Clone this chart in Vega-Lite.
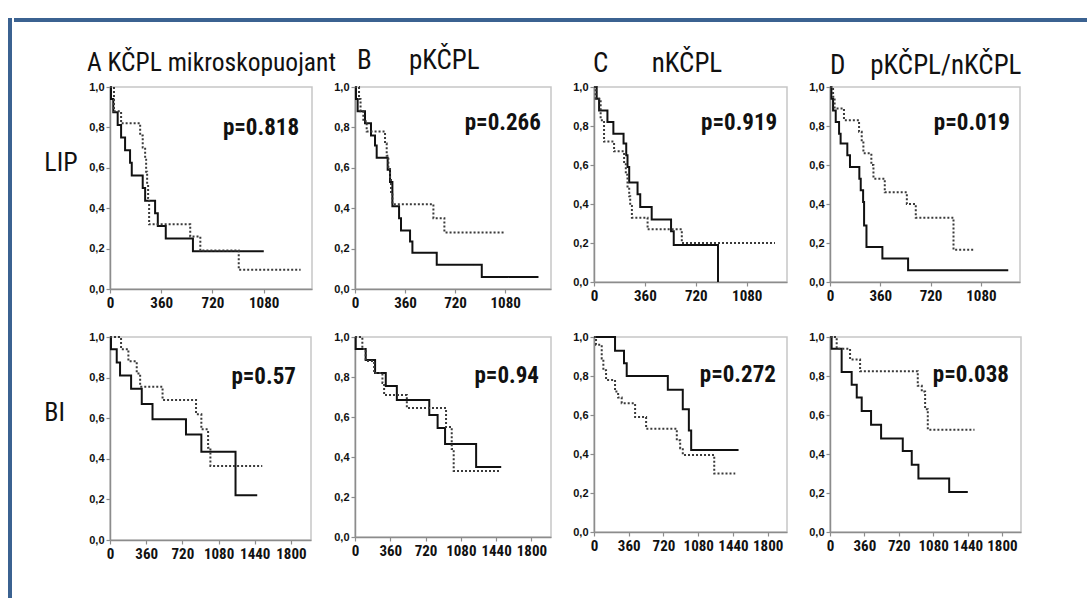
{
  "$schema": "https://vega.github.io/schema/vega-lite/v6.json",
  "padding": {"left": 8, "top": 14, "right": 0, "bottom": 0},
  "autosize": {"type": "pad"},
  "background": "white",
  "datasets": {
    "km": [
      {"panel":"A1","grp":"a","t":0,"s":1},{"panel":"A1","grp":"a","t":7,"s":0.94},{"panel":"A1","grp":"a","t":23,"s":0.875},{"panel":"A1","grp":"a","t":54,"s":0.8125},{"panel":"A1","grp":"a","t":78,"s":0.75},{"panel":"A1","grp":"a","t":106,"s":0.6875},{"panel":"A1","grp":"a","t":141,"s":0.625},{"panel":"A1","grp":"a","t":153,"s":0.5625},{"panel":"A1","grp":"a","t":230,"s":0.5},{"panel":"A1","grp":"a","t":247,"s":0.4375},{"panel":"A1","grp":"a","t":317,"s":0.375},{"panel":"A1","grp":"a","t":336,"s":0.3125},{"panel":"A1","grp":"a","t":392,"s":0.25},{"panel":"A1","grp":"a","t":583,"s":0.1875},{"panel":"A1","grp":"a","t":1081,"s":0.1875},
      {"panel":"A1","grp":"b","t":0,"s":1},{"panel":"A1","grp":"b","t":28,"s":0.88},{"panel":"A1","grp":"b","t":78,"s":0.82},{"panel":"A1","grp":"b","t":212,"s":0.76},{"panel":"A1","grp":"b","t":230,"s":0.7},{"panel":"A1","grp":"b","t":247,"s":0.64},{"panel":"A1","grp":"b","t":254,"s":0.58},{"panel":"A1","grp":"b","t":261,"s":0.52},{"panel":"A1","grp":"b","t":268,"s":0.45},{"panel":"A1","grp":"b","t":275,"s":0.32},{"panel":"A1","grp":"b","t":564,"s":0.26},{"panel":"A1","grp":"b","t":635,"s":0.19},{"panel":"A1","grp":"b","t":905,"s":0.095},{"panel":"A1","grp":"b","t":1340,"s":0.095},
      {"panel":"B1","grp":"a","t":0,"s":1},{"panel":"B1","grp":"a","t":7,"s":0.94},{"panel":"B1","grp":"a","t":19,"s":0.88},{"panel":"B1","grp":"a","t":72,"s":0.82},{"panel":"B1","grp":"a","t":115,"s":0.76},{"panel":"B1","grp":"a","t":144,"s":0.71},{"panel":"B1","grp":"a","t":156,"s":0.65},{"panel":"B1","grp":"a","t":235,"s":0.59},{"panel":"B1","grp":"a","t":252,"s":0.53},{"panel":"B1","grp":"a","t":269,"s":0.41},{"panel":"B1","grp":"a","t":317,"s":0.35},{"panel":"B1","grp":"a","t":331,"s":0.29},{"panel":"B1","grp":"a","t":396,"s":0.235},{"panel":"B1","grp":"a","t":413,"s":0.18},{"panel":"B1","grp":"a","t":588,"s":0.12},{"panel":"B1","grp":"a","t":912,"s":0.06},{"panel":"B1","grp":"a","t":1320,"s":0.06},
      {"panel":"B1","grp":"b","t":0,"s":1},{"panel":"B1","grp":"b","t":29,"s":0.94},{"panel":"B1","grp":"b","t":40,"s":0.88},{"panel":"B1","grp":"b","t":60,"s":0.83},{"panel":"B1","grp":"b","t":84,"s":0.78},{"panel":"B1","grp":"b","t":216,"s":0.72},{"panel":"B1","grp":"b","t":228,"s":0.66},{"panel":"B1","grp":"b","t":240,"s":0.6},{"panel":"B1","grp":"b","t":252,"s":0.54},{"panel":"B1","grp":"b","t":259,"s":0.48},{"panel":"B1","grp":"b","t":269,"s":0.42},{"panel":"B1","grp":"b","t":564,"s":0.35},{"panel":"B1","grp":"b","t":643,"s":0.28},{"panel":"B1","grp":"b","t":1080,"s":0.28},
      {"panel":"C1","grp":"a","t":0,"s":1},{"panel":"C1","grp":"a","t":19,"s":0.94},{"panel":"C1","grp":"a","t":36,"s":0.88},{"panel":"C1","grp":"a","t":95,"s":0.82},{"panel":"C1","grp":"a","t":137,"s":0.76},{"panel":"C1","grp":"a","t":209,"s":0.71},{"panel":"C1","grp":"a","t":228,"s":0.65},{"panel":"C1","grp":"a","t":237,"s":0.59},{"panel":"C1","grp":"a","t":249,"s":0.51},{"panel":"C1","grp":"a","t":308,"s":0.45},{"panel":"C1","grp":"a","t":327,"s":0.385},{"panel":"C1","grp":"a","t":408,"s":0.32},{"panel":"C1","grp":"a","t":545,"s":0.26},{"panel":"C1","grp":"a","t":564,"s":0.19},{"panel":"C1","grp":"a","t":877,"s":0},
      {"panel":"C1","grp":"b","t":0,"s":1},{"panel":"C1","grp":"b","t":12,"s":0.94},{"panel":"C1","grp":"b","t":47,"s":0.83},{"panel":"C1","grp":"b","t":71,"s":0.72},{"panel":"C1","grp":"b","t":142,"s":0.67},{"panel":"C1","grp":"b","t":213,"s":0.61},{"panel":"C1","grp":"b","t":225,"s":0.55},{"panel":"C1","grp":"b","t":237,"s":0.49},{"panel":"C1","grp":"b","t":249,"s":0.44},{"panel":"C1","grp":"b","t":256,"s":0.39},{"panel":"C1","grp":"b","t":268,"s":0.33},{"panel":"C1","grp":"b","t":379,"s":0.27},{"panel":"C1","grp":"b","t":621,"s":0.2},{"panel":"C1","grp":"b","t":1280,"s":0.2},
      {"panel":"D1","grp":"a","t":0,"s":1},{"panel":"D1","grp":"a","t":10,"s":0.94},{"panel":"D1","grp":"a","t":22,"s":0.88},{"panel":"D1","grp":"a","t":41,"s":0.82},{"panel":"D1","grp":"a","t":65,"s":0.76},{"panel":"D1","grp":"a","t":76,"s":0.71},{"panel":"D1","grp":"a","t":124,"s":0.65},{"panel":"D1","grp":"a","t":143,"s":0.59},{"panel":"D1","grp":"a","t":210,"s":0.53},{"panel":"D1","grp":"a","t":220,"s":0.47},{"panel":"D1","grp":"a","t":237,"s":0.41},{"panel":"D1","grp":"a","t":244,"s":0.29},{"panel":"D1","grp":"a","t":261,"s":0.18},{"panel":"D1","grp":"a","t":375,"s":0.12},{"panel":"D1","grp":"a","t":559,"s":0.06},{"panel":"D1","grp":"a","t":1276,"s":0.06},
      {"panel":"D1","grp":"b","t":0,"s":1},{"panel":"D1","grp":"b","t":22,"s":0.95},{"panel":"D1","grp":"b","t":33,"s":0.89},{"panel":"D1","grp":"b","t":100,"s":0.83},{"panel":"D1","grp":"b","t":208,"s":0.77},{"panel":"D1","grp":"b","t":227,"s":0.72},{"panel":"D1","grp":"b","t":239,"s":0.66},{"panel":"D1","grp":"b","t":296,"s":0.6},{"panel":"D1","grp":"b","t":311,"s":0.53},{"panel":"D1","grp":"b","t":392,"s":0.46},{"panel":"D1","grp":"b","t":550,"s":0.4},{"panel":"D1","grp":"b","t":614,"s":0.33},{"panel":"D1","grp":"b","t":884,"s":0.165},{"panel":"D1","grp":"b","t":1032,"s":0.165},
      {"panel":"A2","grp":"a","t":0,"s":1},{"panel":"A2","grp":"a","t":10,"s":0.94},{"panel":"A2","grp":"a","t":67,"s":0.875},{"panel":"A2","grp":"a","t":100,"s":0.81},{"panel":"A2","grp":"a","t":210,"s":0.745},{"panel":"A2","grp":"a","t":316,"s":0.67},{"panel":"A2","grp":"a","t":423,"s":0.595},{"panel":"A2","grp":"a","t":756,"s":0.52},{"panel":"A2","grp":"a","t":909,"s":0.435},{"panel":"A2","grp":"a","t":1249,"s":0.22},{"panel":"A2","grp":"a","t":1465,"s":0.22},
      {"panel":"A2","grp":"b","t":0,"s":1},{"panel":"A2","grp":"b","t":110,"s":0.94},{"panel":"A2","grp":"b","t":183,"s":0.88},{"panel":"A2","grp":"b","t":266,"s":0.82},{"panel":"A2","grp":"b","t":300,"s":0.755},{"panel":"A2","grp":"b","t":523,"s":0.69},{"panel":"A2","grp":"b","t":856,"s":0.62},{"panel":"A2","grp":"b","t":909,"s":0.545},{"panel":"A2","grp":"b","t":976,"s":0.455},{"panel":"A2","grp":"b","t":999,"s":0.365},{"panel":"A2","grp":"b","t":1515,"s":0.365},
      {"panel":"B2","grp":"a","t":0,"s":1},{"panel":"B2","grp":"a","t":7,"s":0.94},{"panel":"B2","grp":"a","t":109,"s":0.885},{"panel":"B2","grp":"a","t":205,"s":0.82},{"panel":"B2","grp":"a","t":314,"s":0.755},{"panel":"B2","grp":"a","t":427,"s":0.685},{"panel":"B2","grp":"a","t":758,"s":0.61},{"panel":"B2","grp":"a","t":843,"s":0.545},{"panel":"B2","grp":"a","t":919,"s":0.465},{"panel":"B2","grp":"a","t":1236,"s":0.35},{"panel":"B2","grp":"a","t":1492,"s":0.35},
      {"panel":"B2","grp":"b","t":0,"s":1},{"panel":"B2","grp":"b","t":75,"s":0.94},{"panel":"B2","grp":"b","t":109,"s":0.88},{"panel":"B2","grp":"b","t":195,"s":0.82},{"panel":"B2","grp":"b","t":280,"s":0.77},{"panel":"B2","grp":"b","t":297,"s":0.71},{"panel":"B2","grp":"b","t":529,"s":0.645},{"panel":"B2","grp":"b","t":929,"s":0.55},{"panel":"B2","grp":"b","t":987,"s":0.44},{"panel":"B2","grp":"b","t":1007,"s":0.33},{"panel":"B2","grp":"b","t":1475,"s":0.33},
      {"panel":"C2","grp":"a","t":0,"s":1},{"panel":"C2","grp":"a","t":218,"s":0.93},{"panel":"C2","grp":"a","t":311,"s":0.865},{"panel":"C2","grp":"a","t":339,"s":0.8},{"panel":"C2","grp":"a","t":765,"s":0.73},{"panel":"C2","grp":"a","t":920,"s":0.63},{"panel":"C2","grp":"a","t":983,"s":0.52},{"panel":"C2","grp":"a","t":1007,"s":0.42},{"panel":"C2","grp":"a","t":1498,"s":0.42},
      {"panel":"C2","grp":"b","t":0,"s":1},{"panel":"C2","grp":"b","t":21,"s":0.96},{"panel":"C2","grp":"b","t":80,"s":0.89},{"panel":"C2","grp":"b","t":97,"s":0.83},{"panel":"C2","grp":"b","t":125,"s":0.78},{"panel":"C2","grp":"b","t":218,"s":0.72},{"panel":"C2","grp":"b","t":250,"s":0.69},{"panel":"C2","grp":"b","t":287,"s":0.66},{"panel":"C2","grp":"b","t":426,"s":0.59},{"panel":"C2","grp":"b","t":540,"s":0.53},{"panel":"C2","grp":"b","t":858,"s":0.47},{"panel":"C2","grp":"b","t":893,"s":0.43},{"panel":"C2","grp":"b","t":920,"s":0.395},{"panel":"C2","grp":"b","t":1246,"s":0.3},{"panel":"C2","grp":"b","t":1464,"s":0.3},
      {"panel":"D2","grp":"a","t":0,"s":1},{"panel":"D2","grp":"a","t":17,"s":0.94},{"panel":"D2","grp":"a","t":122,"s":0.82},{"panel":"D2","grp":"a","t":227,"s":0.755},{"panel":"D2","grp":"a","t":280,"s":0.69},{"panel":"D2","grp":"a","t":332,"s":0.62},{"panel":"D2","grp":"a","t":430,"s":0.55},{"panel":"D2","grp":"a","t":535,"s":0.48},{"panel":"D2","grp":"a","t":762,"s":0.415},{"panel":"D2","grp":"a","t":856,"s":0.345},{"panel":"D2","grp":"a","t":926,"s":0.275},{"panel":"D2","grp":"a","t":1248,"s":0.205},{"panel":"D2","grp":"a","t":1443,"s":0.205},
      {"panel":"D2","grp":"b","t":0,"s":1},{"panel":"D2","grp":"b","t":70,"s":0.94},{"panel":"D2","grp":"b","t":210,"s":0.885},{"panel":"D2","grp":"b","t":315,"s":0.825},{"panel":"D2","grp":"b","t":919,"s":0.75},{"panel":"D2","grp":"b","t":961,"s":0.72},{"panel":"D2","grp":"b","t":996,"s":0.63},{"panel":"D2","grp":"b","t":1024,"s":0.525},{"panel":"D2","grp":"b","t":1513,"s":0.525}
    ],
    "pv": [
      {"panel":"A1","p":"p=0.818"},{"panel":"B1","p":"p=0.266"},{"panel":"C1","p":"p=0.919"},{"panel":"D1","p":"p=0.019"},
      {"panel":"A2","p":"p=0.57"},{"panel":"B2","p":"p=0.94"},{"panel":"C2","p":"p=0.272"},{"panel":"D2","p":"p=0.038"}
    ]
  },
  "spacing": 0,
  "hconcat": [
    {
      "width": 4, "height": 584,
      "view": {"fill": "#3b6291", "stroke": null},
      "data": {"name": "pv"},
      "mark": {"type": "text", "opacity": 0},
      "encoding": {"text": {"value": ""}}
    },
    {
      "spacing": 21,
      "vconcat": [
        {
          "width": 979, "height": 4,
          "view": {"fill": "#3b6291", "stroke": null},
          "data": {"name": "pv"},
          "mark": {"type": "text", "opacity": 0},
          "encoding": {
            "text": {"value": ""},
            "y": {"datum": 0.5, "type": "quantitative", "scale": {"domain": [0, 1]},
                  "axis": {"values": [0.5], "offset": 96, "translate": 0, "tickSize": -96, "tickWidth": 4, "tickColor": "#3b6291", "tickCap": "butt", "domain": false, "labels": false, "title": null}}
          }
        },
        {
          "columns": 4,
          "spacing": {"row": 47, "column": 43},
          "align": {"row": "all", "column": "none"},
          "bounds": "flush",
          "concat": [
            {
              "width": 202, "height": 202,
              "title": {"text": "A KČPL mikroskopuojant", "dx": -23, "offset": 5, "fontSize": 25.5},
              "layer": [
                {"data": {"name": "km"}, "transform": [{"filter": "datum.panel === 'A1'"}],
                 "mark": {"type": "line", "interpolate": "step-after", "strokeWidth": 2},
                 "encoding": {
                   "x": {"field": "t", "type": "quantitative", "scale": {"domain": [0, 1420], "nice": false, "zero": false}, "axis": {"values": [0, 360, 720, 1080], "title": null}},
                   "y": {"field": "s", "type": "quantitative", "scale": {"domain": [0, 1], "nice": false}, "axis": {"values": [0, 0.2, 0.4, 0.6, 0.8, 1], "labelExpr": "replace(format(datum.value, '.1f'), '.', ',')", "title": "\u200b\u00a0\u00a0\u00a0\u00a0\u00a0LIP", "titleAngle": 0, "titleAlign": "left", "titleBaseline": "middle", "titleX": -96, "titleY": 75}},
                   "color": {"field": "grp", "type": "nominal", "scale": {"domain": ["a", "b"], "range": ["#111111", "#3a3a3a"]}, "legend": null},
                   "strokeDash": {"field": "grp", "type": "nominal", "scale": {"domain": ["a", "b"], "range": [[1, 0], [2, 2]]}, "legend": null}
                 }},
                {"data": {"name": "pv"}, "transform": [{"filter": "datum.panel === 'A1'"}],
                 "mark": {"type": "text", "align": "right", "baseline": "alphabetic", "fontSize": 23, "fontWeight": "bold", "font": "Liberation Sans Narrow, Arial Narrow, Roboto Condensed, DejaVu Sans Condensed, sans-serif", "color": "#111"},
                 "encoding": {"x": {"datum": 1329}, "y": {"datum": 0.762}, "text": {"field": "p"}}}
              ]
            },
            {
              "width": 196, "height": 202,
              "title": {"text": "B\u00a0\u00a0\u00a0\u00a0\u00a0\u00a0pKČPL", "dx": 2, "offset": 6},
              "layer": [
                {"data": {"name": "km"}, "transform": [{"filter": "datum.panel === 'B1'"}],
                 "mark": {"type": "line", "interpolate": "step-after", "strokeWidth": 2},
                 "encoding": {
                   "x": {"field": "t", "type": "quantitative", "scale": {"domain": [0, 1410], "nice": false, "zero": false}, "axis": {"values": [0, 360, 720, 1080], "title": null}},
                   "y": {"field": "s", "type": "quantitative", "scale": {"domain": [0, 1], "nice": false}, "axis": {"values": [0, 0.2, 0.4, 0.6, 0.8, 1], "labelExpr": "replace(format(datum.value, '.1f'), '.', ',')", "title": null}},
                   "color": {"field": "grp", "type": "nominal", "scale": {"domain": ["a", "b"], "range": ["#111111", "#3a3a3a"]}, "legend": null},
                   "strokeDash": {"field": "grp", "type": "nominal", "scale": {"domain": ["a", "b"], "range": [[1, 0], [2, 2]]}, "legend": null}
                 }},
                {"data": {"name": "pv"}, "transform": [{"filter": "datum.panel === 'B1'"}],
                 "mark": {"type": "text", "align": "right", "baseline": "alphabetic", "fontSize": 23, "fontWeight": "bold", "font": "Liberation Sans Narrow, Arial Narrow, Roboto Condensed, DejaVu Sans Condensed, sans-serif", "color": "#111"},
                 "encoding": {"x": {"datum": 1337}, "y": {"datum": 0.787}, "text": {"field": "p"}}}
              ]
            },
            {
              "width": 193, "height": 195,
              "title": {"text": "C\u00a0\u00a0\u00a0\u00a0\u00a0\u00a0\u00a0nKČPL", "dx": -1, "offset": 3},
              "layer": [
                {"data": {"name": "km"}, "transform": [{"filter": "datum.panel === 'C1'"}],
                 "mark": {"type": "line", "interpolate": "step-after", "strokeWidth": 2},
                 "encoding": {
                   "x": {"field": "t", "type": "quantitative", "scale": {"domain": [0, 1365], "nice": false, "zero": false}, "axis": {"values": [0, 360, 720, 1080], "title": null}},
                   "y": {"field": "s", "type": "quantitative", "scale": {"domain": [0, 1], "nice": false}, "axis": {"values": [0, 0.2, 0.4, 0.6, 0.8, 1], "labelExpr": "replace(format(datum.value, '.1f'), '.', ',')", "title": null}},
                   "color": {"field": "grp", "type": "nominal", "scale": {"domain": ["a", "b"], "range": ["#111111", "#3a3a3a"]}, "legend": null},
                   "strokeDash": {"field": "grp", "type": "nominal", "scale": {"domain": ["a", "b"], "range": [[1, 0], [2, 2]]}, "legend": null}
                 }},
                {"data": {"name": "pv"}, "transform": [{"filter": "datum.panel === 'C1'"}],
                 "mark": {"type": "text", "align": "right", "baseline": "alphabetic", "fontSize": 23, "fontWeight": "bold", "font": "Liberation Sans Narrow, Arial Narrow, Roboto Condensed, DejaVu Sans Condensed, sans-serif", "color": "#111"},
                 "encoding": {"x": {"datum": 1296}, "y": {"datum": 0.78}, "text": {"field": "p"}}}
              ]
            },
            {
              "width": 190, "height": 195,
              "title": {"text": "D\u00a0\u00a0\u00a0\u00a0pKČPL/nKČPL", "dx": 0, "offset": 1},
              "layer": [
                {"data": {"name": "km"}, "transform": [{"filter": "datum.panel === 'D1'"}],
                 "mark": {"type": "line", "interpolate": "step-after", "strokeWidth": 2},
                 "encoding": {
                   "x": {"field": "t", "type": "quantitative", "scale": {"domain": [0, 1360], "nice": false, "zero": false}, "axis": {"values": [0, 360, 720, 1080], "title": null}},
                   "y": {"field": "s", "type": "quantitative", "scale": {"domain": [0, 1], "nice": false}, "axis": {"values": [0, 0.2, 0.4, 0.6, 0.8, 1], "labelExpr": "replace(format(datum.value, '.1f'), '.', ',')", "title": null}},
                   "color": {"field": "grp", "type": "nominal", "scale": {"domain": ["a", "b"], "range": ["#111111", "#3a3a3a"]}, "legend": null},
                   "strokeDash": {"field": "grp", "type": "nominal", "scale": {"domain": ["a", "b"], "range": [[1, 0], [2, 2]]}, "legend": null}
                 }},
                {"data": {"name": "pv"}, "transform": [{"filter": "datum.panel === 'D1'"}],
                 "mark": {"type": "text", "align": "right", "baseline": "alphabetic", "fontSize": 23, "fontWeight": "bold", "font": "Liberation Sans Narrow, Arial Narrow, Roboto Condensed, DejaVu Sans Condensed, sans-serif", "color": "#111"},
                 "encoding": {"x": {"datum": 1288}, "y": {"datum": 0.78}, "text": {"field": "p"}}}
              ]
            },
            {
              "width": 201, "height": 203,
              "layer": [
                {"data": {"name": "km"}, "transform": [{"filter": "datum.panel === 'A2'"}],
                 "mark": {"type": "line", "interpolate": "step-after", "strokeWidth": 2},
                 "encoding": {
                   "x": {"field": "t", "type": "quantitative", "scale": {"domain": [0, 2000], "nice": false, "zero": false}, "axis": {"values": [0, 360, 720, 1080, 1440, 1800], "title": null}},
                   "y": {"field": "s", "type": "quantitative", "scale": {"domain": [0, 1], "nice": false}, "axis": {"values": [0, 0.2, 0.4, 0.6, 0.8, 1], "labelExpr": "replace(format(datum.value, '.1f'), '.', ',')", "title": "\u200b\u00a0\u00a0\u00a0\u00a0\u00a0BI", "titleAngle": 0, "titleAlign": "left", "titleBaseline": "middle", "titleX": -96, "titleY": 75}},
                   "color": {"field": "grp", "type": "nominal", "scale": {"domain": ["a", "b"], "range": ["#111111", "#3a3a3a"]}, "legend": null},
                   "strokeDash": {"field": "grp", "type": "nominal", "scale": {"domain": ["a", "b"], "range": [[1, 0], [2, 2]]}, "legend": null}
                 }},
                {"data": {"name": "pv"}, "transform": [{"filter": "datum.panel === 'A2'"}],
                 "mark": {"type": "text", "align": "right", "baseline": "alphabetic", "fontSize": 23, "fontWeight": "bold", "font": "Liberation Sans Narrow, Arial Narrow, Roboto Condensed, DejaVu Sans Condensed, sans-serif", "color": "#111"},
                 "encoding": {"x": {"datum": 1850}, "y": {"datum": 0.77}, "text": {"field": "p"}}}
              ]
            },
            {
              "width": 196, "height": 200,
              "layer": [
                {"data": {"name": "km"}, "transform": [{"filter": "datum.panel === 'B2'"}],
                 "mark": {"type": "line", "interpolate": "step-after", "strokeWidth": 2},
                 "encoding": {
                   "x": {"field": "t", "type": "quantitative", "scale": {"domain": [0, 2000], "nice": false, "zero": false}, "axis": {"values": [0, 360, 720, 1080, 1440, 1800], "title": null}},
                   "y": {"field": "s", "type": "quantitative", "scale": {"domain": [0, 1], "nice": false}, "axis": {"values": [0, 0.2, 0.4, 0.6, 0.8, 1], "labelExpr": "replace(format(datum.value, '.1f'), '.', ',')", "title": null}},
                   "color": {"field": "grp", "type": "nominal", "scale": {"domain": ["a", "b"], "range": ["#111111", "#3a3a3a"]}, "legend": null},
                   "strokeDash": {"field": "grp", "type": "nominal", "scale": {"domain": ["a", "b"], "range": [[1, 0], [2, 2]]}, "legend": null}
                 }},
                {"data": {"name": "pv"}, "transform": [{"filter": "datum.panel === 'B2'"}],
                 "mark": {"type": "text", "align": "right", "baseline": "alphabetic", "fontSize": 23, "fontWeight": "bold", "font": "Liberation Sans Narrow, Arial Narrow, Roboto Condensed, DejaVu Sans Condensed, sans-serif", "color": "#111"},
                 "encoding": {"x": {"datum": 1877}, "y": {"datum": 0.77}, "text": {"field": "p"}}}
              ]
            },
            {
              "width": 193, "height": 195,
              "layer": [
                {"data": {"name": "km"}, "transform": [{"filter": "datum.panel === 'C2'"}],
                 "mark": {"type": "line", "interpolate": "step-after", "strokeWidth": 2},
                 "encoding": {
                   "x": {"field": "t", "type": "quantitative", "scale": {"domain": [0, 2000], "nice": false, "zero": false}, "axis": {"values": [0, 360, 720, 1080, 1440, 1800], "title": null}},
                   "y": {"field": "s", "type": "quantitative", "scale": {"domain": [0, 1], "nice": false}, "axis": {"values": [0, 0.2, 0.4, 0.6, 0.8, 1], "labelExpr": "replace(format(datum.value, '.1f'), '.', ',')", "title": null}},
                   "color": {"field": "grp", "type": "nominal", "scale": {"domain": ["a", "b"], "range": ["#111111", "#3a3a3a"]}, "legend": null},
                   "strokeDash": {"field": "grp", "type": "nominal", "scale": {"domain": ["a", "b"], "range": [[1, 0], [2, 2]]}, "legend": null}
                 }},
                {"data": {"name": "pv"}, "transform": [{"filter": "datum.panel === 'C2'"}],
                 "mark": {"type": "text", "align": "right", "baseline": "alphabetic", "fontSize": 23, "fontWeight": "bold", "font": "Liberation Sans Narrow, Arial Narrow, Roboto Condensed, DejaVu Sans Condensed, sans-serif", "color": "#111"},
                 "encoding": {"x": {"datum": 1885}, "y": {"datum": 0.77}, "text": {"field": "p"}}}
              ]
            },
            {
              "width": 191, "height": 195,
              "layer": [
                {"data": {"name": "km"}, "transform": [{"filter": "datum.panel === 'D2'"}],
                 "mark": {"type": "line", "interpolate": "step-after", "strokeWidth": 2},
                 "encoding": {
                   "x": {"field": "t", "type": "quantitative", "scale": {"domain": [0, 2000], "nice": false, "zero": false}, "axis": {"values": [0, 360, 720, 1080, 1440, 1800], "title": null}},
                   "y": {"field": "s", "type": "quantitative", "scale": {"domain": [0, 1], "nice": false}, "axis": {"values": [0, 0.2, 0.4, 0.6, 0.8, 1], "labelExpr": "replace(format(datum.value, '.1f'), '.', ',')", "title": null}},
                   "color": {"field": "grp", "type": "nominal", "scale": {"domain": ["a", "b"], "range": ["#111111", "#3a3a3a"]}, "legend": null},
                   "strokeDash": {"field": "grp", "type": "nominal", "scale": {"domain": ["a", "b"], "range": [[1, 0], [2, 2]]}, "legend": null}
                 }},
                {"data": {"name": "pv"}, "transform": [{"filter": "datum.panel === 'D2'"}],
                 "mark": {"type": "text", "align": "right", "baseline": "alphabetic", "fontSize": 23, "fontWeight": "bold", "font": "Liberation Sans Narrow, Arial Narrow, Roboto Condensed, DejaVu Sans Condensed, sans-serif", "color": "#111"},
                 "encoding": {"x": {"datum": 1874}, "y": {"datum": 0.77}, "text": {"field": "p"}}}
              ]
            }
          ]
        }
      ]
    }
  ],
  "config": {
    "view": {"stroke": "#c6c6c6", "strokeWidth": 1.5},
    "title": {"anchor": "start", "frame": "group", "font": "Liberation Sans Narrow, Arial Narrow, Roboto Condensed, DejaVu Sans Condensed, sans-serif", "fontSize": 27, "fontWeight": "normal", "color": "#111", "baseline": "alphabetic"},
    "axis": {"grid": false, "tickCount": 20, "domainColor": "#8c8c8c", "domainWidth": 1.5, "tickColor": "#8c8c8c", "tickSize": 4, "tickWidth": 1.2, "labelColor": "#111", "labelFontWeight": "bold", "labelFlush": false, "labelOverlap": false, "labelPadding": 2},
    "axisY": {"labelFont": "Liberation Sans, Arial, sans-serif", "labelFontSize": 11, "titleFont": "Liberation Sans Narrow, Arial Narrow, Roboto Condensed, DejaVu Sans Condensed, sans-serif", "titleFontSize": 26, "titleFontWeight": "normal", "titleColor": "#111"},
    "axisX": {"labelFont": "Liberation Sans Narrow, Arial Narrow, Roboto Condensed, DejaVu Sans Condensed, sans-serif", "labelFontSize": 15, "format": "d"}
  }
}
